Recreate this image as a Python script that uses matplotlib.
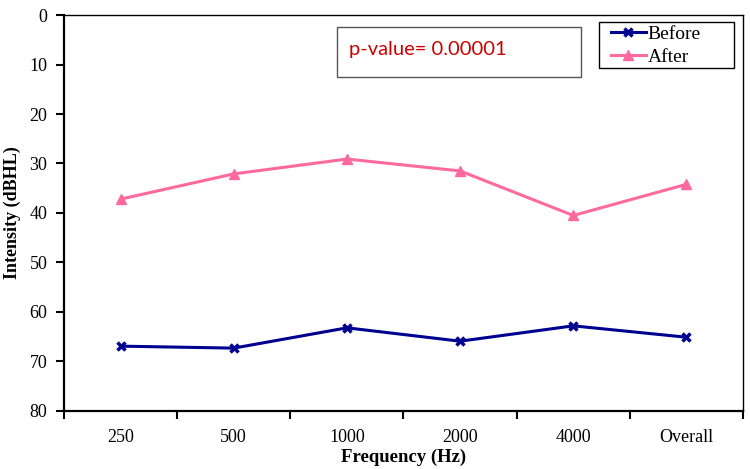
import matplotlib.pyplot as plt
from matplotlib.patches import Rectangle
import numpy as np

# values
freqs = ['250', '500', '1000', '2000', '4000', 'Overall']
before = [66.9, 67.3, 63.2, 65.9, 62.8, 65.1]
after = [37.2, 32.1, 29.1, 31.5, 40.5, 34.2]
yticks = [0, 10, 20, 30, 40, 50, 60, 70, 80]

serif = ['Liberation Serif', 'DejaVu Serif']

fig = plt.figure(figsize=(7.5, 4.69), dpi=100)
ax = fig.add_axes([0.0853, 0.1237, 0.9054, 0.8443])

x = np.arange(len(freqs))
ax.plot(x, before, color='#000090', lw=2.2, marker='x', ms=6, mew=2.5, label='Before')
ax.plot(x, after, color='#FF6A9E', lw=2.2, marker='^', ms=7, label='After')

ax.set_xlim(-0.5, len(freqs) - 0.5)
ax.set_ylim(80, 0)
ax.set_yticks(yticks)
ax.set_yticklabels([str(v) for v in yticks], family=serif, fontsize=13)

# category labels centred, ticks between categories
ax.set_xticks(x)
ax.set_xticklabels(freqs, family=serif, fontsize=13)
ax.tick_params(axis='x', length=0, pad=13)
ax.set_xticks(np.arange(-0.5, len(freqs)), minor=True)
ax.tick_params(axis='x', which='minor', length=6, width=1.5, direction='out')
ax.tick_params(axis='y', length=6, width=1.5, direction='out', pad=6)

for side in ['left', 'bottom']:
    ax.spines[side].set_linewidth(1.6)
for side in ['top', 'right']:
    ax.spines[side].set_linewidth(1.0)

ax.set_xlabel('Frequency (Hz)', family=serif, fontsize=13.5, fontweight='bold', labelpad=2)
ax.set_ylabel('Intensity (dBHL)', family=serif, fontsize=13, fontweight='bold', labelpad=6)

# legend without its own frame, boxed by a rectangle like the original
ax.legend(loc='upper left', bbox_to_anchor=(0.801, 0.982), borderaxespad=0,
          prop={'family': serif, 'size': 14}, frameon=False,
          handlelength=1.8, handletextpad=0.1, labelspacing=0.3, borderpad=0.15)
ax.add_patch(Rectangle((0.788, 0.866), 0.199, 0.116, transform=ax.transAxes,
                       fill=False, edgecolor='black', lw=1.0))

# p-value box
ax.add_patch(Rectangle((0.402, 0.843), 0.359, 0.127, transform=ax.transAxes,
                       fill=False, edgecolor='#555555', lw=1.0))
ax.text(0.42, 0.914, 'p-value= 0.00001', transform=ax.transAxes, color='#CC0000',
        fontsize=14.5, family=['Lato', 'DejaVu Sans'], va='center', ha='left')

fig.savefig('out.png', dpi=100)
